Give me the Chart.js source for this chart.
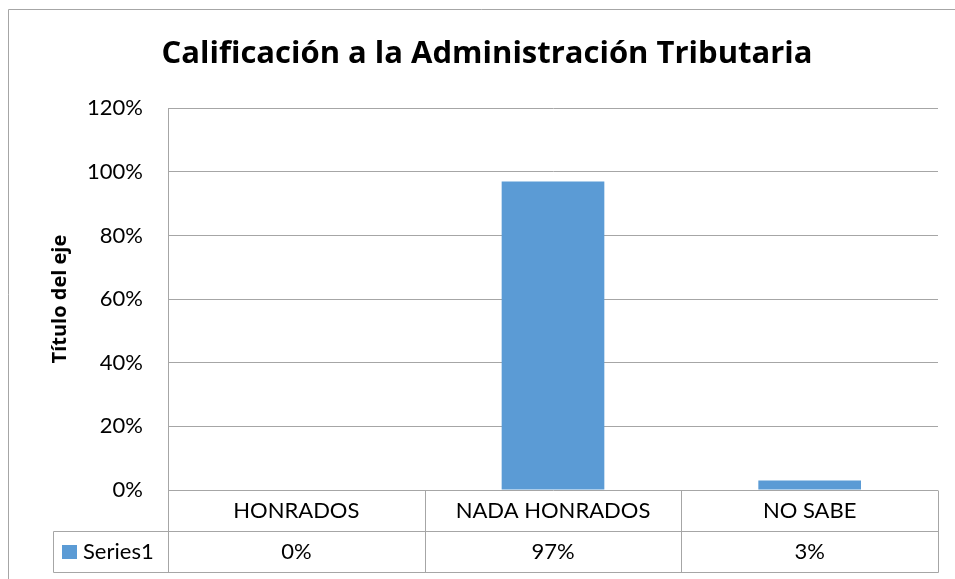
<!DOCTYPE html>
<html>
<head>
<meta charset="utf-8">
<script src="https://cdn.jsdelivr.net/npm/chart.js@4/dist/chart.umd.min.js"></script>
<style>
  body { margin: 0; background: #fff; }
</style>
</head>
<body>
<canvas id="chartCalif" width="955" height="579"></canvas>
<script>
const categories = ["HONRADOS", "NADA HONRADOS", "NO SABE"];
const series1 = [0, 0.97, 0.03];
const seriesName = "Series1";
const yTicks = [0, 0.2, 0.4, 0.6, 0.8, 1.0, 1.2];

const lineGray = "#a6a6a6";
const barBlue = "#5b9bd5";
const pct = (v) => Math.round(v * 100) + "%";

// outer frame + Excel-style data table under the plot
const dataTable = {
  id: "dataTable",
  afterDraw(chart) {
    const { ctx, chartArea: a, scales: { x } } = chart;
    const rowH = 41;
    const y0 = a.bottom + 0.5, y1 = y0 + rowH, y2 = y1 + rowH;
    const half = (a.right - a.left) / categories.length / 2;
    const legendLeft = 53.5;

    ctx.save();
    ctx.strokeStyle = lineGray;
    ctx.lineWidth = 1;
    ctx.beginPath();
    // frame
    ctx.moveTo(8.5, 579);
    ctx.lineTo(8.5, 9.5);
    ctx.lineTo(955, 9.5);
    // rows
    ctx.moveTo(legendLeft, y1);
    ctx.lineTo(a.right + 0.5, y1);
    ctx.moveTo(legendLeft, y2);
    ctx.lineTo(a.right + 0.5, y2);
    ctx.moveTo(legendLeft, y1);
    ctx.lineTo(legendLeft, y2);
    // columns
    categories.forEach((c, i) => {
      const left = Math.round(x.getPixelForValue(i) - half) + 0.5;
      ctx.moveTo(left, y0);
      ctx.lineTo(left, y2);
    });
    ctx.moveTo(Math.round(a.right) + 0.5, y0);
    ctx.lineTo(Math.round(a.right) + 0.5, y2);
    ctx.stroke();

    ctx.fillStyle = "#000";
    ctx.font = "22px Lato";
    ctx.textAlign = "center";
    ctx.textBaseline = "middle";
    categories.forEach((c, i) => {
      const cx = x.getPixelForValue(i);
      ctx.fillText(c, cx, y0 + rowH / 2);
      ctx.fillText(pct(series1[i]), cx, y1 + rowH / 2);
    });

    // legend key
    ctx.fillStyle = barBlue;
    ctx.fillRect(62, 545, 15, 14);
    ctx.fillStyle = "#000";
    ctx.textAlign = "left";
    ctx.fillText(seriesName, 83, y1 + rowH / 2);
    ctx.restore();
  },
};

document.addEventListener("DOMContentLoaded", () => {
  new Chart(document.querySelector("#chartCalif"), {
    type: "bar",
    data: {
      labels: categories,
      datasets: [
        {
          label: seriesName,
          data: series1,
          backgroundColor: barBlue,
          barPercentage: 1,
          categoryPercentage: 0.4,
        },
      ],
    },
    options: {
      responsive: false,
      animation: false,
      layout: {
        padding: { left: 36, right: 17, top: 0, bottom: 89 },
      },
      scales: {
        x: {
          display: false,
        },
        y: {
          min: 0,
          max: 1.2,
          afterFit(scale) {
            scale.width = 132;
          },
          afterBuildTicks(scale) {
            scale.ticks = yTicks.map((v) => ({ value: v }));
          },
          ticks: {
            callback: (v) => pct(v),
            color: "#000",
            font: { family: "Lato", size: 22 },
            padding: 25,
          },
          grid: {
            color: lineGray,
            drawTicks: false,
          },
          border: {
            color: lineGray,
          },
          title: {
            display: true,
            text: "Título del eje",
            color: "#000",
            font: { family: "Open Sans", size: 20, weight: "bold" },
            padding: { top: 12, bottom: 0 },
          },
        },
      },
      plugins: {
        legend: { display: false },
        tooltip: { enabled: false },
        title: {
          display: true,
          text: "Calificación a la Administración Tributaria",
          color: "#000",
          font: { family: "Open Sans", size: 31, weight: "bold" },
          padding: { top: 36, bottom: 35 },
        },
      },
    },
    plugins: [dataTable],
  });
});
</script>
</body>
</html>
